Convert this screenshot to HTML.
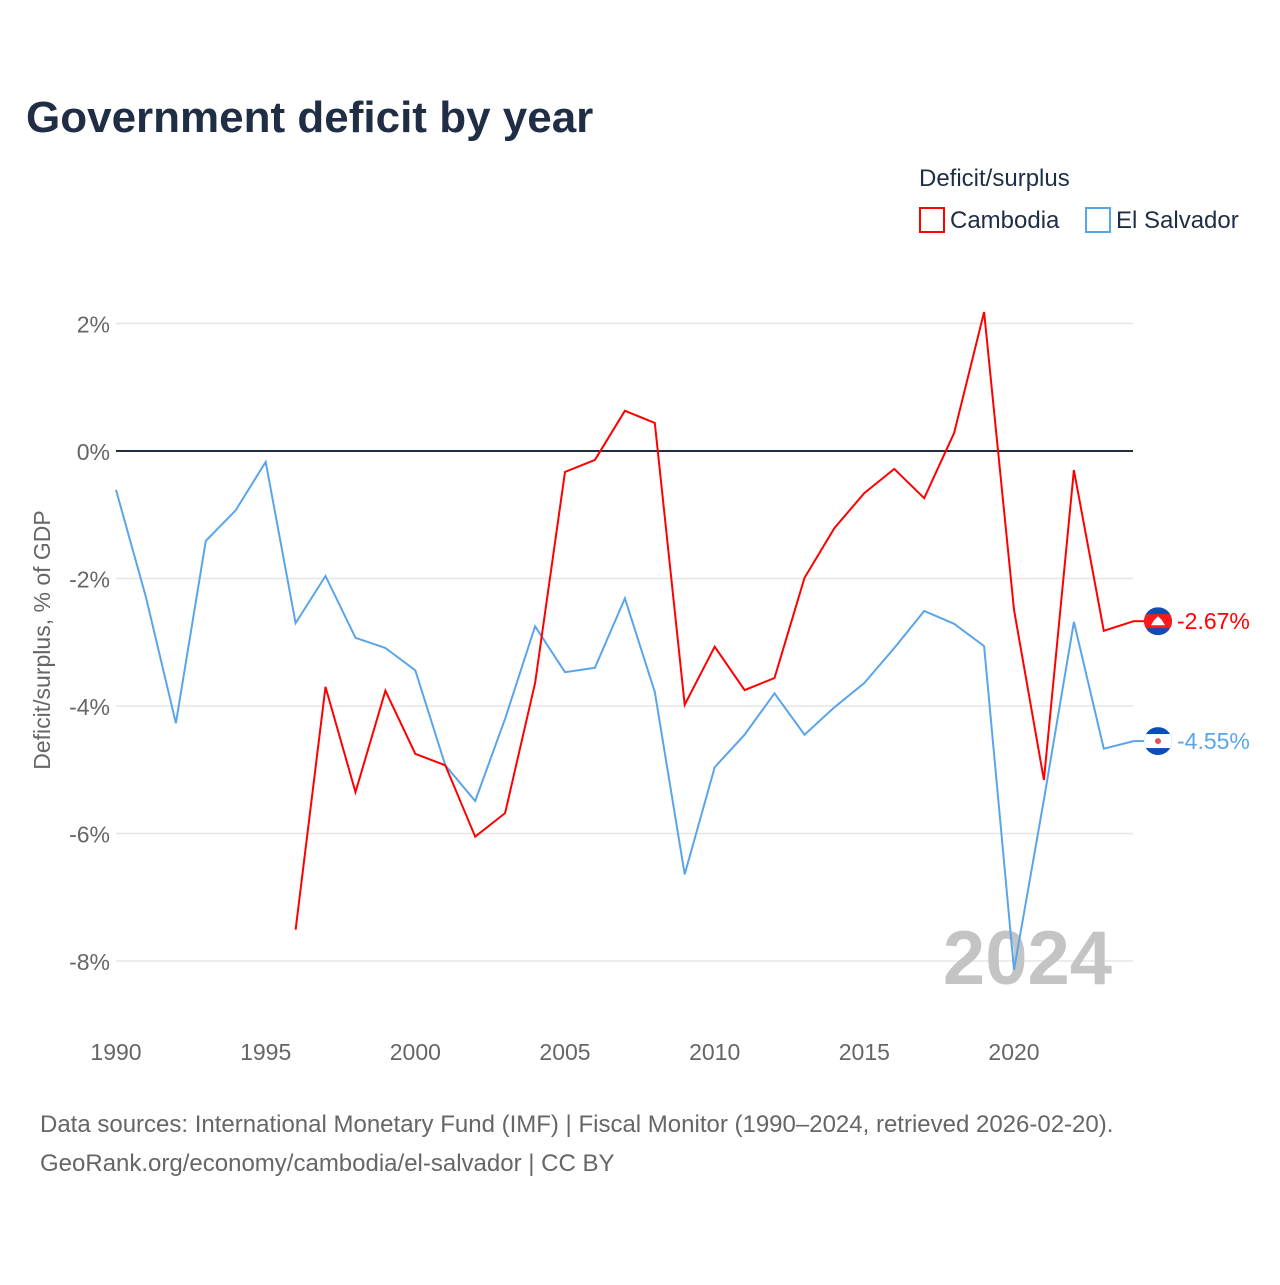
<!DOCTYPE html>
<html><head><meta charset="utf-8"><style>
body{margin:0;background:#fff;width:1280px;height:1280px;overflow:hidden;font-family:"Liberation Sans",sans-serif}
</style></head><body>
<svg id="chart" width="1280" height="1280" xmlns="http://www.w3.org/2000/svg">
<defs><clipPath id="fc1"><circle cx="1158" cy="621.2" r="14"/></clipPath><clipPath id="fc2"><circle cx="1158" cy="741.1" r="14"/></clipPath></defs>
<text x="26" y="132" font-size="44" font-weight="bold" fill="#1f2d45">Government deficit by year</text>
<text x="919" y="186" font-size="24" fill="#1f2d45">Deficit/surplus</text>
<g><rect x="920" y="208" width="24" height="24" fill="none" stroke="#ff0000" stroke-width="2"/><text x="950" y="228" font-size="24" fill="#1f2d45">Cambodia</text></g>
<g><rect x="1086" y="208" width="24" height="24" fill="none" stroke="#5aa5ea" stroke-width="2"/><text x="1116" y="228" font-size="24" fill="#1f2d45">El Salvador</text></g>
<g id="grid"></g>
<text transform="translate(50,640) rotate(-90)" text-anchor="middle" font-size="23" fill="#666">Deficit/surplus, % of GDP</text>
<text x="1112" y="984" text-anchor="end" font-size="76" font-weight="bold" fill="#c4c4c4">2024</text>
<g id="series"></g>
<text x="40" y="1132" font-size="24" fill="#666">Data sources: International Monetary Fund (IMF) | Fiscal Monitor (1990–2024, retrieved 2026-02-20).</text>
<text x="40" y="1171" font-size="24" fill="#666">GeoRank.org/economy/cambodia/el-salvador | CC BY</text>
</svg>
<script>
const years=[];for(let y=1990;y<=2024;y++)years.push(y);
const elSalvador=[-0.61,-2.29,-4.27,-1.41,-0.93,-0.17,-2.70,-1.96,-2.93,-3.09,-3.44,-4.93,-5.49,-4.2,-2.75,-3.47,-3.40,-2.31,-3.78,-6.64,-4.96,-4.45,-3.80,-4.45,-4.02,-3.64,-3.09,-2.51,-2.71,-3.06,-8.14,-5.47,-2.68,-4.67,-4.55];
const cambodia=[null,null,null,null,null,null,-7.51,-3.70,-5.35,-3.76,-4.75,-4.93,-6.05,-5.68,-3.64,-0.33,-0.14,0.63,0.44,-3.98,-3.07,-3.75,-3.56,-1.99,-1.21,-0.66,-0.28,-0.74,0.28,2.18,-2.49,-5.16,-0.30,-2.82,-2.67];
const yTicks=[2,0,-2,-4,-6,-8];
const xTicks=[1990,1995,2000,2005,2010,2015,2020];
const NS="http://www.w3.org/2000/svg";
const xs=y=>116+(y-1990)*(898/30);
const ys=v=>451-v*63.75;
function mk(tag,attrs,parent){const e=document.createElementNS(NS,tag);for(const k in attrs)e.setAttribute(k,attrs[k]);parent.appendChild(e);return e;}
const grid=document.getElementById('grid');
yTicks.forEach(t=>{
 const l=mk('line',{x1:116,x2:1133,y1:ys(t),y2:ys(t),stroke:t===0?'#1f2d45':'#e6e6e6','stroke-width':t===0?2:1.5},grid);
 
 
 const tx=mk('text',{x:110,y:ys(t)+9,'text-anchor':'end','font-size':23,fill:'#666'},grid);
 tx.textContent=t+'%';
 
 
});
xTicks.forEach(t=>{
 const tx=mk('text',{x:xs(t),y:1060,'text-anchor':'middle','font-size':23,fill:'#666'},grid);
 tx.textContent=t;
 
 
});
const ser=document.getElementById('series');
function draw(vals,color,name,last,flag,clip){
 let d='';let start=true;
 vals.forEach((v,i)=>{if(v===null){start=true;return;}d+=(start?'M':'L')+xs(years[i]).toFixed(1)+','+ys(v).toFixed(1);start=false;});
 const p=mk('path',{d:d,fill:'none',stroke:color,'stroke-width':2},ser);
 
 
 const yy=ys(last);
 mk('line',{x1:1133,x2:1145,y1:yy,y2:yy,stroke:color,'stroke-width':2},ser);
 const g=mk('g',{'clip-path':'url(#'+clip+')'},ser);
 
 
 mk('rect',{x:1144,y:yy-14,width:28,height:28,fill:'#0a4fb5'},g);
 mk('rect',{x:1144,y:yy-7,width:28,height:14,fill:flag},g);
 if(flag==='#ff1a1a'){mk('path',{d:`M1151,${yy+4}L1165,${yy+4}L1162,${yy-1}L1158,${yy-5}L1154,${yy-1}Z`,fill:'#fff'},g);}
 else{mk('circle',{cx:1158,cy:yy,r:3,fill:'#e05050'},g);}
 const tx=mk('text',{x:1177,y:yy+8,'font-size':23,fill:color},ser);
 tx.textContent=last.toFixed(2)+'%';
 
 
}
draw(elSalvador,'#5aa5ea','el-salvador',elSalvador[elSalvador.length-1],'#ffffff','fc2');
draw(cambodia,'#ff0000','cambodia',cambodia[cambodia.length-1],'#ff1a1a','fc1');
</script>
</body></html>
